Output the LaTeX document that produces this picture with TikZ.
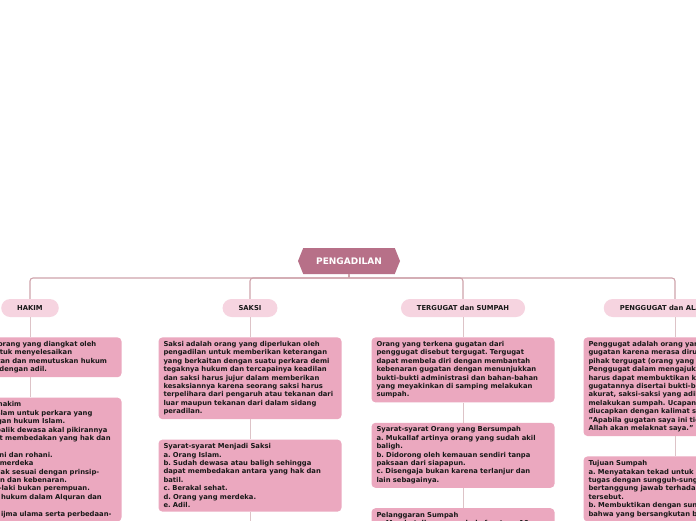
\documentclass[tikz,border=0pt]{standalone}
\usepackage{fontspec}
\setsansfont{DejaVu Sans}
\usetikzlibrary{positioning, shapes.symbols}

\definecolor{rootpink}{HTML}{B77088}
\definecolor{topicpink}{HTML}{F6D4E0}
\definecolor{notepink}{HTML}{EBA8BF}
\definecolor{branchline}{HTML}{CFA3AB}
\definecolor{stemline}{HTML}{DDC3C7}

\frenchspacing

\begin{document}
\begin{tikzpicture}[
    x=1pt, y=-1pt,
    rootnode/.style={
        signal,
        signal to=west and east,
        signal pointer angle=136,
        fill=rootpink,
        text=white,
        minimum width=102pt,
        minimum height=26pt,
        font=\sffamily\bfseries\fontsize{9}{10}\selectfont
    },
    topicnode/.style={
        rectangle,
        rounded corners=9pt,
        fill=topicpink,
        minimum height=18pt,
        inner xsep=16pt,
        text=black!90,
        font=\sffamily\bfseries\fontsize{6.8}{8}\selectfont
    },
    notebox/.style={
        rectangle,
        rounded corners=4pt,
        fill=notepink,
        text width=173pt,
        inner xsep=5pt,
        inner ysep=4pt,
        align=left,
        text=black!90,
        font=\sffamily\bfseries\fontsize{6.8}{8.4}\selectfont
    },
    branch/.style={
        draw=branchline,
        line width=1.1pt,
        rounded corners=3pt
    },
    stem/.style={
        draw=stemline,
        line width=0.9pt
    }
]

    % Page
    \useasboundingbox (0,0) rectangle (696,520);
    \fill[white] (0,0) rectangle (696,520);

    % Root
    \node[rootnode] (root) at (349,261) {PENGADILAN};
    \coordinate (hub) at (349,278);

    % Topics
    \node[topicnode] (hakim) at (30,308) {HAKIM};
    \node[topicnode] (saksi) at (250,308) {SAKSI};
    \node[topicnode] (tergugat) at (463,308) {TERGUGAT dan SUMPAH};
    \node[topicnode] (penggugat) at (675,308) {PENGGUGAT dan ALAT BUKTI};

    % Notes: HAKIM
    \node[notebox, below=20pt of hakim] (hakimA) {Hakim adalah orang yang diangkat oleh\\
        pemerintah untuk menyelesaikan\\
        gugatan-gugatan dan memutuskan hukum\\
        suatu perkara dengan adil.};
    \node[notebox, below=20pt of hakimA] (hakimB) {Syarat-syarat hakim\\
        a. Beragama Islam untuk perkara yang\\
        berkaitan dengan hukum Islam.\\
        b. Baligh dan balik dewasa akal pikirannya\\
        sehingga dapat membedakan yang hak dan\\
        batil.\\
        c. Sehat jasmani dan rohani.\\
        d. Orang yang merdeka\\
        e. Adil, bertindak sesuai dengan prinsip-\\
        prinsip keadilan dan kebenaran.\\
        f. Seorang laki-laki bukan perempuan.\\
        g. Mengetahui hukum dalam Alquran dan\\
        Hadis.\\
        h. Mengetahui ijma ulama serta perbedaan-};

    % Notes: SAKSI
    \node[notebox, below=20pt of saksi] (saksiA) {Saksi adalah orang yang diperlukan oleh\\
        pengadilan untuk memberikan keterangan\\
        yang berkaitan dengan suatu perkara demi\\
        tegaknya hukum dan tercapainya keadilan\\
        dan saksi harus jujur dalam memberikan\\
        kesaksiannya karena seorang saksi harus\\
        terpelihara dari pengaruh atau tekanan dari\\
        luar maupun tekanan dari dalam sidang\\
        peradilan.};
    \node[notebox, below=20pt of saksiA] (saksiB) {Syarat-syarat Menjadi Saksi\\
        a. Orang Islam.\\
        b. Sudah dewasa atau baligh sehingga\\
        dapat membedakan antara yang hak dan\\
        batil.\\
        c. Berakal sehat.\\
        d. Orang yang merdeka.\\
        e. Adil.};
    \coordinate (saksiEnd) at (250,530);

    % Notes: TERGUGAT dan SUMPAH
    \node[notebox, below=20pt of tergugat] (tergugatA) {Orang yang terkena gugatan dari\\
        penggugat disebut tergugat. Tergugat\\
        dapat membela diri dengan membantah\\
        kebenaran gugatan dengan menunjukkan\\
        bukti-bukti administrasi dan bahan-bahan\\
        yang meyakinkan di samping melakukan\\
        sumpah.};
    \node[notebox, below=20pt of tergugatA] (tergugatB) {Syarat-syarat Orang yang Bersumpah\\
        a. Mukallaf artinya orang yang sudah akil\\
        baligh.\\
        b. Didorong oleh kemauan sendiri tanpa\\
        paksaan dari siapapun.\\
        c. Disengaja bukan karena terlanjur dan\\
        lain sebagainya.};
    \node[notebox, below=20pt of tergugatB] (tergugatC) {Pelanggaran Sumpah\\
        a. Membatalkan sumpah, kafaratnya 10};

    % Notes: PENGGUGAT
    \node[notebox, below=20pt of penggugat] (penggugatA) {Penggugat adalah orang yang mengajukan\\
        gugatan karena merasa dirugikan oleh\\
        pihak tergugat (orang yang digugat).\\
        Penggugat dalam mengajukan gugatannya\\
        harus dapat membuktikan kebenaran\\
        gugatannya disertai bukti-bukti yang\\
        akurat, saksi-saksi yang adil, atau\\
        melakukan sumpah. Ucapan sumpah\\
        diucapkan dengan kalimat sumpah:\\
        "Apabila gugatan saya ini tidak benar,\\
        Allah akan melaknat saya."};
    \node[notebox, below=20pt of penggugatA] (penggugatB) {Tujuan Sumpah\\
        a. Menyatakan tekad untuk melaksanakan\\
        tugas dengan sungguh-sungguh dan\\
        bertanggung jawab terhadap tugas\\
        tersebut.\\
        b. Membuktikan dengan sungguh-sungguh\\
        bahwa yang bersangkutan benar};

    % Branches from root
    \draw[branch] (root.south) -- (hub);
    \draw[branch] (hub) -| (hakim.north);
    \draw[branch] (hub) -| (saksi.north);
    \draw[branch] (hub) -| (tergugat.north);
    \draw[branch] (hub) -| (penggugat.north);

    % Stems under each topic
    \draw[stem] (hakim.south) -- (hakimA.north);
    \draw[stem] (hakimA.south) -- (hakimB.north);
    \draw[stem] (saksi.south) -- (saksiA.north);
    \draw[stem] (saksiA.south) -- (saksiB.north);
    \draw[stem] (saksiB.south) -- (saksiEnd);
    \draw[stem] (tergugat.south) -- (tergugatA.north);
    \draw[stem] (tergugatA.south) -- (tergugatB.north);
    \draw[stem] (tergugatB.south) -- (tergugatC.north);
    \draw[stem] (penggugat.south) -- (penggugatA.north);
    \draw[stem] (penggugatA.south) -- (penggugatB.north);

\end{tikzpicture}
\end{document}
